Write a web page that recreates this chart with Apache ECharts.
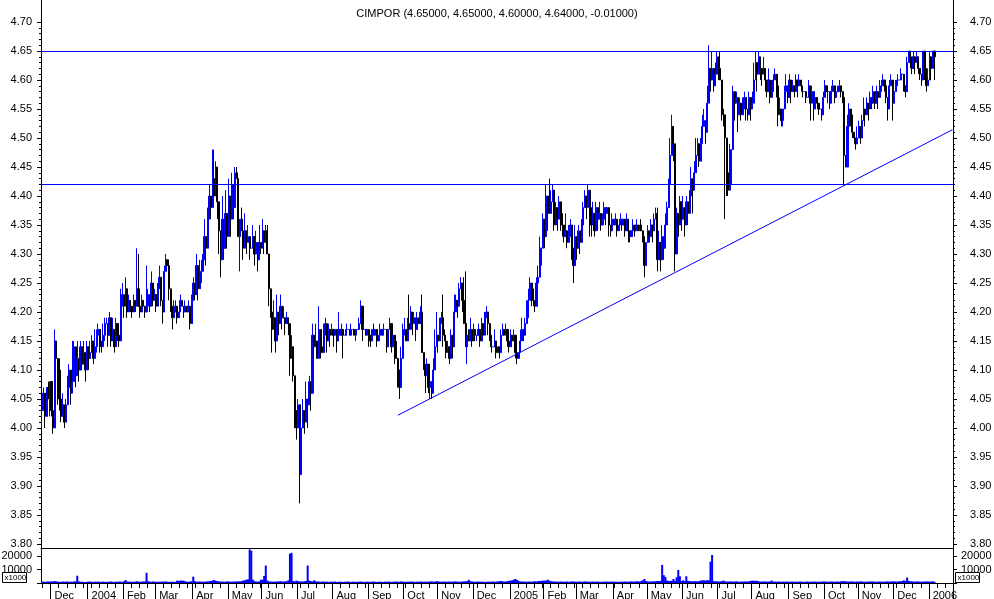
<!DOCTYPE html>
<html><head><meta charset="utf-8">
<script src="https://cdn.jsdelivr.net/npm/echarts@6/dist/echarts.min.js"></script>
<style>html,body{margin:0;padding:0;background:#fff}#c{width:994px;height:599px}</style>
</head><body><div id="c"></div>
<script>
const chartTitle = 'CIMPOR (4.65000, 4.65000, 4.60000, 4.64000, -0.01000)';
const firstDay = '2003-11-21';
const axisDays = 566;
const monthNames = ['Jan','Feb','Mar','Apr','May','Jun','Jul','Aug','Sep','Oct','Nov','Dec'];
const priceMin = 3.80, priceMax = 4.70, priceStep = 0.05;
const volMin = 0, volMax = 26000, volStep = 10000;
const volUnit = 'x1000';

// daily closes (open = previous close)
const closes = [
4.03,4.06,4.02,4.07,4.05,4.08,4.03,4.00,4.15,4.12,
4.10,4.05,4.02,4.04,4.01,4.04,4.07,4.10,4.06,4.08,
4.14,4.09,4.12,4.10,4.14,4.11,4.13,4.10,4.14,4.12,
4.13,4.15,4.12,4.14,4.16,4.17,4.15,4.14,4.16,4.18,
4.18,4.16,4.19,4.15,4.17,4.14,4.18,4.16,4.15,4.21,
4.23,4.21,4.24,4.20,4.22,4.21,4.20,4.22,4.21,4.24,
4.21,4.20,4.22,4.21,4.20,4.21,4.23,4.21,4.25,4.22,
4.23,4.21,4.24,4.26,4.22,4.20,4.27,4.29,4.28,4.24,
4.21,4.19,4.20,4.21,4.19,4.20,4.22,4.21,4.20,4.21,
4.20,4.21,4.18,4.22,4.25,4.23,4.28,4.24,4.26,4.27,
4.29,4.33,4.31,4.36,4.40,4.38,4.43,4.40,4.45,4.39,
4.34,4.29,4.36,4.31,4.37,4.33,4.40,4.36,4.42,4.38,
4.44,4.43,4.33,4.36,4.34,4.31,4.34,4.32,4.33,4.31,
4.31,4.33,4.30,4.32,4.29,4.32,4.31,4.34,4.32,4.34,
4.30,4.24,4.20,4.17,4.19,4.15,4.20,4.18,4.21,4.19,
4.19,4.18,4.19,4.18,4.12,4.14,4.09,4.03,4.00,4.04,
3.92,4.00,4.03,4.01,4.05,4.04,4.08,4.06,4.16,4.14,
4.15,4.12,4.17,4.14,4.13,4.16,4.18,4.15,4.17,4.16,
4.17,4.16,4.17,4.15,4.17,4.16,4.17,4.16,4.16,4.17,
4.17,4.16,4.17,4.17,4.16,4.17,4.17,4.18,4.21,4.17,
4.17,4.16,4.17,4.16,4.15,4.17,4.16,4.17,4.15,4.16,
4.17,4.16,4.17,4.17,4.14,4.17,4.18,4.14,4.16,4.14,
4.12,4.10,4.07,4.12,4.16,4.17,4.15,4.18,4.17,4.20,
4.18,4.19,4.17,4.19,4.18,4.20,4.13,4.11,4.09,4.11,
4.07,4.08,4.06,4.10,4.14,4.16,4.15,4.18,4.19,4.16,
4.15,4.13,4.14,4.12,4.16,4.14,4.20,4.22,4.21,4.24,
4.25,4.22,4.18,4.14,4.16,4.15,4.17,4.15,4.17,4.16,
4.16,4.17,4.15,4.18,4.16,4.19,4.20,4.18,4.16,4.14,
4.14,4.15,4.13,4.14,4.13,4.16,4.17,4.16,4.17,4.15,
4.14,4.16,4.15,4.16,4.13,4.12,4.13,4.15,4.17,4.16,
4.18,4.19,4.22,4.25,4.24,4.22,4.21,4.25,4.26,4.31,
4.31,4.36,4.33,4.40,4.38,4.37,4.39,4.41,4.35,4.38,
4.36,4.39,4.37,4.35,4.33,4.34,4.32,4.33,4.35,4.31,
4.28,4.33,4.31,4.34,4.32,4.35,4.38,4.40,4.38,4.41,
4.38,4.35,4.37,4.34,4.38,4.36,4.37,4.35,4.36,4.38,
4.37,4.38,4.35,4.34,4.36,4.35,4.36,4.34,4.35,4.36,
4.35,4.36,4.34,4.36,4.34,4.33,4.34,4.35,4.34,4.35,
4.34,4.35,4.34,4.33,4.28,4.32,4.34,4.33,4.35,4.34,
4.36,4.37,4.29,4.32,4.29,4.33,4.31,4.35,4.38,4.42,
4.47,4.52,4.49,4.30,4.37,4.35,4.39,4.36,4.38,4.35,
4.39,4.37,4.40,4.43,4.41,4.44,4.47,4.49,4.46,4.49,
4.52,4.53,4.51,4.56,4.62,4.60,4.62,4.59,4.61,4.64,
4.62,4.60,4.55,4.54,4.50,4.44,4.41,4.43,4.48,4.58,
4.56,4.57,4.54,4.56,4.54,4.55,4.57,4.55,4.54,4.57,
4.55,4.56,4.60,4.63,4.61,4.64,4.62,4.61,4.62,4.60,
4.58,4.60,4.57,4.58,4.60,4.61,4.59,4.54,4.55,4.53,
4.55,4.58,4.59,4.57,4.60,4.58,4.59,4.58,4.60,4.59,
4.60,4.59,4.58,4.58,4.57,4.57,4.59,4.56,4.58,4.55,
4.57,4.56,4.55,4.55,4.54,4.57,4.59,4.58,4.58,4.56,
4.58,4.59,4.57,4.58,4.58,4.59,4.58,4.57,4.47,4.45,
4.52,4.55,4.54,4.51,4.50,4.49,4.50,4.52,4.50,4.53,
4.55,4.54,4.56,4.55,4.57,4.56,4.58,4.56,4.58,4.57,
4.58,4.59,4.60,4.59,4.57,4.55,4.59,4.60,4.56,4.58,
4.59,4.60,4.60,4.61,4.61,4.59,4.58,4.63,4.65,4.64,
4.62,4.64,4.63,4.64,4.62,4.61,4.60,4.65,4.62,4.59,
4.60,4.64,4.62,4.65,4.64
];
// intraday highs / lows beyond the body (keyed by trading-day number)
const highs = {
1:4.07,4:4.08,6:4.08,8:4.17,9:4.14,11:4.12,13:4.06,15:4.05,16:4.09,17:4.11,19:4.15,
20:4.15,22:4.15,24:4.15,26:4.15,28:4.15,30:4.15,31:4.16,33:4.17,34:4.17,35:4.18,38:4.18,39:4.19,
40:4.19,42:4.20,44:4.19,46:4.19,49:4.24,50:4.25,52:4.26,54:4.23,57:4.23,59:4.31,
60:4.30,62:4.23,65:4.28,66:4.24,68:4.27,70:4.24,72:4.25,73:4.28,76:4.28,77:4.30,78:4.29,
82:4.22,83:4.22,86:4.23,89:4.22,91:4.22,93:4.23,94:4.26,96:4.30,98:4.29,99:4.29,
100:4.30,101:4.36,103:4.38,104:4.42,106:4.48,107:4.48,108:4.46,109:4.44,112:4.40,114:4.41,116:4.43,118:4.44,
120:4.45,121:4.45,124:4.38,126:4.37,128:4.35,131:4.35,133:4.34,135:4.35,137:4.36,139:4.35,
140:4.35,144:4.22,146:4.23,148:4.23,150:4.21,152:4.20,155:4.16,159:4.05,161:4.01,162:4.05,164:4.08,166:4.09,168:4.18,
170:4.18,172:4.21,175:4.18,176:4.19,178:4.18,180:4.18,184:4.20,186:4.18,189:4.18,192:4.18,197:4.19,198:4.22,
200:4.18,206:4.18,210:4.18,212:4.18,216:4.19,220:4.15,223:4.14,224:4.18,225:4.19,227:4.19,228:4.23,229:4.21,
231:4.20,233:4.20,235:4.21,236:4.23,239:4.12,243:4.12,244:4.17,245:4.20,247:4.19,248:4.20,249:4.23,
250:4.17,252:4.15,254:4.17,256:4.23,257:4.23,259:4.25,260:4.26,262:4.26,263:4.27,265:4.17,266:4.19,268:4.18,
271:4.18,273:4.19,275:4.20,276:4.21,281:4.17,285:4.17,286:4.18,288:4.18,291:4.17,293:4.17,297:4.17,298:4.19,
300:4.19,301:4.22,302:4.24,303:4.26,307:4.26,308:4.28,309:4.33,311:4.37,313:4.42,315:4.43,316:4.41,317:4.42,319:4.39,
321:4.40,325:4.37,327:4.35,328:4.36,331:4.35,333:4.35,335:4.36,336:4.39,337:4.41,339:4.42,
342:4.39,344:4.39,346:4.39,348:4.37,349:4.39,354:4.37,356:4.37,359:4.37,363:4.37,367:4.36,369:4.36,372:4.36,376:4.35,378:4.36,
380:4.37,381:4.38,382:4.38,383:4.34,385:4.35,387:4.37,388:4.39,389:4.43,390:4.50,391:4.54,394:4.38,396:4.40,398:4.40,
400:4.40,402:4.41,403:4.45,405:4.46,406:4.50,407:4.50,409:4.50,410:4.54,411:4.55,413:4.59,414:4.66,416:4.65,418:4.63,419:4.65,
421:4.65,427:4.49,429:4.59,431:4.58,433:4.57,435:4.57,436:4.58,439:4.58,441:4.58,442:4.63,443:4.65,445:4.65,448:4.64,
451:4.62,453:4.60,454:4.61,455:4.62,458:4.57,461:4.59,462:4.61,464:4.61,466:4.60,468:4.61,470:4.61,476:4.60,478:4.59,
480:4.58,485:4.58,486:4.60,490:4.59,491:4.60,494:4.59,495:4.60,
500:4.54,501:4.56,506:4.52,507:4.53,509:4.54,510:4.57,512:4.57,514:4.58,516:4.59,518:4.59,
520:4.60,521:4.60,522:4.61,526:4.60,527:4.61,529:4.59,530:4.60,531:4.61,533:4.62,537:4.64,538:4.65,
541:4.65,543:4.65,547:4.65,550:4.62,551:4.65,553:4.65};
const lows = {
0:4.00,2:4.00,5:4.02,6:4.02,7:3.99,10:4.04,11:4.03,12:4.01,14:4.00,15:4.01,17:4.05,18:4.04,19:4.06,
21:4.07,23:4.08,25:4.10,27:4.08,29:4.10,32:4.11,34:4.13,36:4.13,37:4.13,39:4.15,
41:4.14,43:4.14,45:4.13,47:4.15,48:4.14,51:4.19,53:4.19,55:4.20,56:4.19,58:4.20,
61:4.19,64:4.19,67:4.20,69:4.21,71:4.20,74:4.21,75:4.18,79:4.22,
80:4.20,81:4.17,84:4.18,88:4.19,92:4.17,95:4.22,97:4.22,99:4.25,
102:4.28,105:4.36,109:4.36,110:4.30,111:4.26,113:4.29,115:4.31,117:4.33,119:4.36,
123:4.27,125:4.29,127:4.30,129:4.29,132:4.28,134:4.27,136:4.30,138:4.30,
141:4.21,142:4.19,143:4.13,145:4.13,147:4.16,149:4.17,151:4.16,153:4.16,154:4.09,156:4.08,157:4.00,158:3.98,
160:3.87,163:3.99,165:4.00,167:4.03,169:4.12,171:4.12,173:4.12,177:4.13,179:4.14,
181:4.14,183:4.13,187:4.12,195:4.15,199:4.15,203:4.14,204:4.14,208:4.14,214:4.13,217:4.13,219:4.11,
221:4.07,222:4.05,230:4.16,232:4.15,237:4.10,238:4.06,240:4.06,241:4.05,242:4.05,246:4.13,249:4.14,
251:4.12,253:4.11,255:4.12,258:4.19,261:4.20,264:4.11,267:4.14,269:4.15,270:4.15,272:4.14,277:4.16,278:4.15,279:4.13,
282:4.12,284:4.12,289:4.14,290:4.13,294:4.12,295:4.11,299:4.15,
304:4.21,305:4.21,306:4.20,310:4.28,312:4.31,314:4.34,318:4.34,320:4.34,322:4.34,323:4.33,324:4.32,326:4.31,329:4.29,
330:4.25,332:4.29,334:4.30,338:4.36,340:4.33,341:4.33,343:4.33,345:4.34,347:4.34,
350:4.35,352:4.33,353:4.33,357:4.33,360:4.34,362:4.33,364:4.32,365:4.32,368:4.33,373:4.32,374:4.26,375:4.30,377:4.32,379:4.32,
382:4.27,384:4.27,386:4.29,392:4.46,393:4.27,395:4.33,397:4.34,399:4.33,401:4.35,404:4.37,408:4.45,
412:4.49,415:4.58,417:4.58,420:4.60,422:4.53,423:4.52,424:4.36,425:4.40,426:4.40,428:4.42,
430:4.53,432:4.51,434:4.53,437:4.53,438:4.53,440:4.53,444:4.58,446:4.60,447:4.59,449:4.58,
450:4.57,452:4.56,456:4.57,457:4.52,459:4.52,460:4.52,463:4.56,465:4.56,467:4.57,469:4.57,472:4.57,474:4.56,477:4.53,479:4.53,
482:4.54,484:4.53,488:4.56,489:4.55,492:4.56,496:4.57,497:4.56,498:4.42,
502:4.52,503:4.50,505:4.48,508:4.49,511:4.52,513:4.53,515:4.55,517:4.55,519:4.55,
523:4.58,524:4.56,525:4.53,528:4.53,534:4.60,535:4.58,536:4.57,539:4.62,
540:4.61,542:4.61,544:4.61,545:4.60,546:4.59,548:4.60,549:4.58,552:4.60,554:4.60};
const volumes = [
900,1100,800,1000,1200,900,1300,1000,1500,1200,1000,800,900,1100,1000,900,1200,800,1000,900,
1100,1300,5400,1200,900,1000,800,700,900,1000,1100,900,800,1000,900,1100,800,900,1000,900,
800,900,1000,1100,900,800,1000,900,1100,1000,900,1200,2200,1100,900,1000,800,900,1000,1300,
1100,900,1000,1200,1100,7600,1400,1000,900,1100,1000,900,800,1000,900,1100,1000,1200,900,800,
900,1000,800,900,1800,1500,1900,1600,1800,1200,1000,900,1100,1300,4700,1400,1000,900,1100,1000,
900,1000,1100,1200,1300,1500,1800,2200,1600,1400,1200,1000,1100,900,1000,1200,1100,1000,900,1100,
1000,1200,1300,1100,1500,1800,2000,2500,2600,25000,24000,2500,1400,1100,1000,1200,2400,2500,5200,13000,
1800,1200,1100,1000,900,1100,1000,1200,1400,1100,1000,1200,1300,2000,21800,22400,1500,1200,1800,1300,
1200,1100,1000,1300,1500,13000,1800,1400,1200,2000,1300,1100,1000,900,1000,1100,900,1000,800,900,
1000,900,1100,800,900,1000,900,800,1000,900,1100,900,800,1000,900,800,900,1000,1100,900,
800,900,1000,900,800,1000,1100,900,800,900,1000,900,800,1000,900,1100,900,800,900,1000,
1100,1000,900,1200,1000,900,800,1000,900,1100,1000,900,800,1000,900,1100,1000,900,1000,900,
1000,1100,1200,1000,900,1500,1100,1000,900,1000,1100,900,1000,1100,900,1000,1200,1100,1000,900,
1000,1100,1200,1300,1400,2400,1300,1100,1000,900,1000,1100,900,1000,900,800,900,1000,900,1000,
1100,900,1000,1200,1300,1500,1200,1100,1000,1400,1600,1800,2000,2500,3000,2200,1400,1200,1000,1100,
1000,900,1100,1000,900,1200,1300,1100,1400,1500,1600,1700,1800,1800,2500,1700,1300,1200,1100,1000,
1000,900,1100,1000,900,1000,1100,900,1000,1200,1100,1000,900,1000,1100,900,1000,1200,1100,1000,
900,1000,1100,900,1000,1100,900,800,1000,900,1100,1000,900,1000,1100,900,1000,900,800,1000,
900,1000,1100,1000,900,1100,1200,1000,1100,1300,1200,1100,1400,2000,3000,1500,1200,1000,1100,1200,
1300,1200,1500,1400,1600,13400,5800,4500,1800,1600,1500,1700,3000,1600,4300,9700,5000,1500,2000,1400,
5000,1600,1400,1300,1200,1400,1300,1200,1500,1800,2000,2000,1700,2200,1900,15800,20800,1400,1300,1200,
1100,1200,1300,1800,1200,1100,1000,1200,1100,1000,1100,1300,1000,900,1100,1000,1200,1100,1000,1300,
1600,1800,1500,1700,1600,1200,1100,1000,1200,1100,1000,1100,1200,1800,1100,1000,900,1100,1000,900,
1000,900,1100,1000,900,1000,1100,900,1000,900,1000,1100,900,800,1000,1100,900,1000,900,1000,
1100,900,1000,900,1000,1200,1100,1000,900,1000,1100,1000,900,1000,1100,1000,1200,1500,1300,1200,
1100,1000,1200,1100,1000,900,1100,1000,1200,1100,1000,900,1000,1100,1000,1200,1100,1000,900,1000,
1100,1000,900,1000,1100,1200,1000,1100,1300,1200,1100,1000,1200,1300,1500,2000,1400,4000,1600,1300,
1200,1100,1000,1200,1100,1000,900,1100,1000,1200,1100,1000,1100,1200,1000
];
const levelLines = [4.65, 4.42];
const trendLine = [['2004-09-27', 4.022], ['2006-01-20', 4.514]];

// ---- trading-day categories (weekdays) ----
const dates = [];
(function(){
  const d = new Date(firstDay + 'T12:00:00Z');
  while (dates.length < axisDays) {
    const w = d.getUTCDay();
    if (w !== 0 && w !== 6) dates.push(d.toISOString().slice(0,10));
    d.setUTCDate(d.getUTCDate() + 1);
  }
})();
const isMonthStart = dates.map((s,i)=> i>0 && s.slice(5,7) !== dates[i-1].slice(5,7));
const isMonday = dates.map(s=> new Date(s+'T12:00:00Z').getUTCDay() === 1);

const ohlc = closes.map((c,i)=>{
  const o = i>0 ? closes[i-1] : c;
  let hi = Math.max(o,c), lo = Math.min(o,c);
  if (highs[i] !== undefined) hi = Math.max(hi, highs[i]);
  if (lows[i] !== undefined) lo = Math.min(lo, lows[i]);
  return [o, c, lo, hi];
});

const FONT = 'Arial, "Liberation Sans", sans-serif';
const black = '#000000', blue = '#0000ff';
const L = 41, R = 41;

const chart = echarts.init(document.getElementById('c'), null, {renderer:'canvas'});
chart.setOption({
  animation:false,
  backgroundColor:'#ffffff',
  title:{text:chartTitle, left:'center', top:3,
    textStyle:{fontSize:11, fontWeight:'normal', color:black, fontFamily:FONT}},
  grid:[
    {left:L, right:R, top:0, height:548, outerBoundsMode:'none'},
    {left:L, right:R, top:22, height:522, outerBoundsMode:'none'},
    {left:L, right:R, top:548, height:35, outerBoundsMode:'none'},
    {left:L, right:R, top:548, height:35, outerBoundsMode:'none'}
  ],
  xAxis:[
    {type:'category', gridIndex:0, data:dates, boundaryGap:true, position:'bottom',
      axisLine:{show:true, onZero:false, lineStyle:{color:black, width:1}},
      axisTick:{show:false}, axisLabel:{show:false}, splitLine:{show:false}},
    {type:'category', gridIndex:1, data:dates, boundaryGap:true, show:false},
    {type:'category', gridIndex:2, data:dates, boundaryGap:true, position:'bottom',
      axisLine:{show:true, onZero:false, lineStyle:{color:black, width:1}},
      axisTick:{show:true, length:5, interval:(i)=>isMonday[i], lineStyle:{color:black}},
      axisLabel:{show:false}, splitLine:{show:false}},
    {type:'category', gridIndex:3, data:dates, boundaryGap:true, position:'bottom',
      axisLine:{show:false, onZero:false},
      axisTick:{show:true, length:16, interval:(i)=>isMonthStart[i], lineStyle:{color:black}},
      axisLabel:{show:true, interval:(i)=>isMonthStart[i], margin:7, align:'left',
        padding:[0,0,0,3], color:black, fontSize:11, fontFamily:FONT,
        formatter:(v)=>{const m=+v.slice(5,7); return m===1 ? v.slice(0,4) : monthNames[m-1];}},
      splitLine:{show:false}}
  ],
  yAxis:[
    {type:'value', gridIndex:0, min:0, max:1, position:'left',
      axisLine:{show:true, lineStyle:{color:black}}, axisTick:{show:false},
      axisLabel:{show:false}, splitLine:{show:false}},
    {type:'value', gridIndex:0, min:0, max:1, position:'right',
      axisLine:{show:true, lineStyle:{color:black}}, axisTick:{show:false},
      axisLabel:{show:false}, splitLine:{show:false}},
    {type:'value', gridIndex:1, min:priceMin, max:priceMax, interval:priceStep, position:'left',
      axisLine:{show:false}, axisTick:{show:true, length:4, lineStyle:{color:black}},
      minorTick:{show:true, splitNumber:5, length:2, lineStyle:{color:black}},
      axisLabel:{margin:9, color:black, fontSize:11, fontFamily:FONT, formatter:(v)=>v.toFixed(2)},
      splitLine:{show:false}},
    {type:'value', gridIndex:1, min:priceMin, max:priceMax, interval:priceStep, position:'right',
      axisLine:{show:false}, axisTick:{show:true, length:4, lineStyle:{color:black}},
      minorTick:{show:true, splitNumber:5, length:2, lineStyle:{color:black}},
      axisLabel:{margin:17, color:black, fontSize:11, fontFamily:FONT, formatter:(v)=>v.toFixed(2)},
      splitLine:{show:false}},
    {type:'value', gridIndex:2, min:volMin, max:volMax, interval:volStep, position:'left',
      axisLine:{show:true, lineStyle:{color:black}}, axisTick:{show:true, length:4, lineStyle:{color:black}},
      axisLabel:{margin:9, color:black, fontSize:11, fontFamily:FONT, formatter:(v)=> v===0 ? '' : String(v)},
      splitLine:{show:false}},
    {type:'value', gridIndex:2, min:volMin, max:volMax, interval:volStep, position:'right',
      axisLine:{show:true, lineStyle:{color:black}}, axisTick:{show:true, length:4, lineStyle:{color:black}},
      axisLabel:{margin:8, color:black, fontSize:11, fontFamily:FONT, formatter:(v)=> v===0 ? '' : String(v)},
      splitLine:{show:false}},
    {type:'value', gridIndex:3, min:0, max:1, show:false}
  ],
  series:[
    {type:'candlestick', xAxisIndex:1, yAxisIndex:2, data:ohlc, barWidth:1.6, silent:true,
      itemStyle:{color:blue, color0:black, borderColor:blue, borderColor0:black, borderWidth:1},
      markLine:{silent:true, symbol:['none','none'], label:{show:false}, animation:false,
        lineStyle:{color:blue, width:1, type:'solid'},
        emphasis:{disabled:true},
        data:[
          {yAxis:levelLines[0]}, {yAxis:levelLines[1]},
          [{coord:trendLine[0]}, {coord:trendLine[1]}]
        ]}},
    {type:'bar', xAxisIndex:2, yAxisIndex:4, data:volumes, barWidth:2, silent:true,
      itemStyle:{color:blue}}
  ],
  graphic:[
    {type:'group', left:2, top:572, children:[
      {type:'rect', shape:{x:0,y:0,width:24,height:10}, style:{fill:'#fff', stroke:black, lineWidth:1}},
      {type:'text', x:2, y:1, style:{text:volUnit, fontSize:8, fontFamily:FONT, fill:black}}
    ]},
    {type:'group', left:955, top:572, children:[
      {type:'rect', shape:{x:0,y:0,width:24,height:10}, style:{fill:'#fff', stroke:black, lineWidth:1}},
      {type:'text', x:2, y:1, style:{text:volUnit, fontSize:8, fontFamily:FONT, fill:black}}
    ]}
  ]
});
</script>
</body></html>
